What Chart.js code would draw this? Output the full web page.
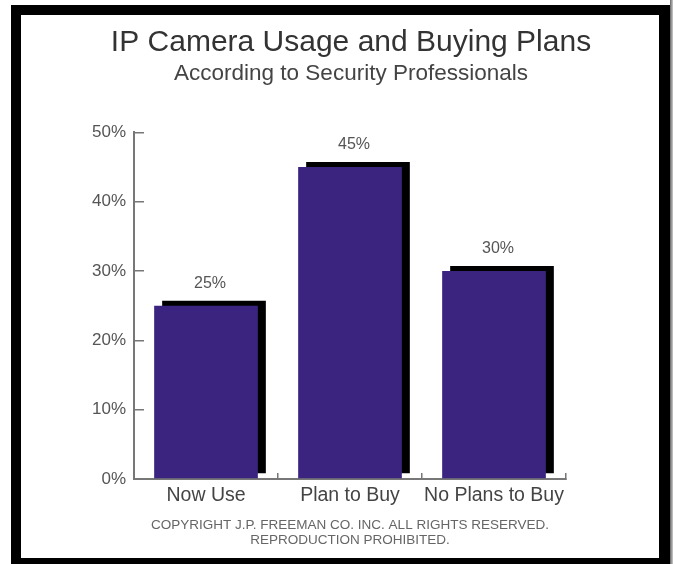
<!DOCTYPE html>
<html>
<head>
<meta charset="utf-8">
<script src="https://cdn.jsdelivr.net/npm/chart.js@4/dist/chart.umd.min.js"></script>
<style>
  html, body { margin: 0; padding: 0; background: #ffffff; overflow: hidden; }
  #wrap { position: relative; width: 673px; height: 564px; overflow: hidden; }
  #chart { position: absolute; left: 0; top: 0; }
  #frame { position: absolute; left: 11px; top: 5px; width: 638px; height: 543px;
           border: 10px solid #000; border-right-width: 11px; pointer-events: none; }
  #edge { position: absolute; left: 670px; top: 0; width: 3px; height: 564px;
          background: linear-gradient(to right, #666, #ccc); }
</style>
</head>
<body>
<div id="wrap">
  <canvas id="chart" width="673" height="564"></canvas>
  <div id="frame"></div>
  <div id="edge"></div>
</div>
<script>
const categories = ['Now Use', 'Plan to Buy', 'No Plans to Buy'];
const values = [25, 45, 30];
const yTickValues = [0, 10, 20, 30, 40, 50];
const titleText = 'IP Camera Usage and Buying Plans';
const subtitleText = 'According to Security Professionals';
const copyrightLines = ['COPYRIGHT J.P. FREEMAN CO. INC. ALL RIGHTS RESERVED.', 'REPRODUCTION PROHIBITED.'];

const FONT = "'Liberation Sans', Arial, Helvetica, sans-serif";

const shadowPlugin = {
  id: 'barShadow',
  beforeDatasetDraw(chart) {
    const ctx = chart.ctx;
    ctx.save();
    ctx.shadowColor = '#000000';
    ctx.shadowBlur = 0;
    ctx.shadowOffsetX = 8;
    ctx.shadowOffsetY = -5;
  },
  afterDatasetDraw(chart) {
    chart.ctx.restore();
  }
};

const valueLabelPlugin = {
  id: 'valueLabels',
  afterDatasetsDraw(chart) {
    const ctx = chart.ctx;
    const meta = chart.getDatasetMeta(0);
    ctx.save();
    ctx.font = '16px ' + FONT;
    ctx.fillStyle = '#555555';
    ctx.textAlign = 'center';
    ctx.textBaseline = 'middle';
    meta.data.forEach((bar, i) => {
      ctx.fillText(values[i] + '%', bar.x + 4, bar.y - 22);
    });
    ctx.restore();
  }
};

new Chart(document.getElementById('chart'), {
  type: 'bar',
  data: {
    labels: categories,
    datasets: [{
      data: values,
      backgroundColor: '#3b2480',
      borderWidth: 0,
      categoryPercentage: 1.0,
      barPercentage: 0.72
    }]
  },
  plugins: [shadowPlugin, valueLabelPlugin],
  options: {
    responsive: false,
    animation: false,
    devicePixelRatio: 1,
    layout: { padding: { left: 90, right: 61, top: 15, bottom: 0 } },
    plugins: {
      legend: { display: false },
      tooltip: { enabled: false },
      title: {
        display: true,
        text: titleText,
        fullSize: true,
        color: '#333333',
        font: { family: FONT, size: 30, weight: 'normal', lineHeight: 1.1 },
        padding: { top: 11.5, bottom: 0 }
      },
      subtitle: {
        display: true,
        text: subtitleText,
        fullSize: true,
        color: '#444444',
        font: { family: FONT, size: 22.5, weight: 'normal', lineHeight: 1.2 },
        padding: { top: 0.5, bottom: 45.3 }
      }
    },
    scales: {
      x: {
        afterFit(scale) { scale.height = 85; },
        grid: { offset: true, drawOnChartArea: false, drawTicks: true, tickLength: -6, color: '#777777', lineWidth: 1.5 },
        border: { display: true, color: '#777777', width: 2 },
        ticks: { color: '#444444', font: { family: FONT, size: 19.5 }, padding: 11,
                 maxRotation: 0, minRotation: 0, autoSkip: false },
        title: {
          display: true,
          text: copyrightLines,
          color: '#666666',
          font: { family: FONT, size: 13.5, lineHeight: 1.111 },
          padding: { top: 0, bottom: 16 }
        }
      },
      y: {
        min: 0,
        max: 50,
        afterFit(scale) { scale.width = 44; },
        afterBuildTicks(scale) { scale.ticks = yTickValues.map(v => ({ value: v })); },
        grid: { drawOnChartArea: false, drawTicks: true, tickLength: -10, color: '#777777', lineWidth: 1.5 },
        border: { display: true, color: '#777777', width: 2 },
        ticks: {
          color: '#555555',
          font: { family: FONT, size: 17 },
          padding: 18,
          callback: v => v + '%'
        }
      },
      spacer: {
        type: 'linear',
        position: 'right',
        display: true,
        afterFit(scale) { scale.width = 46; },
        grid: { display: false },
        border: { display: false },
        ticks: { display: false }
      }
    }
  }
});
</script>
</body>
</html>
